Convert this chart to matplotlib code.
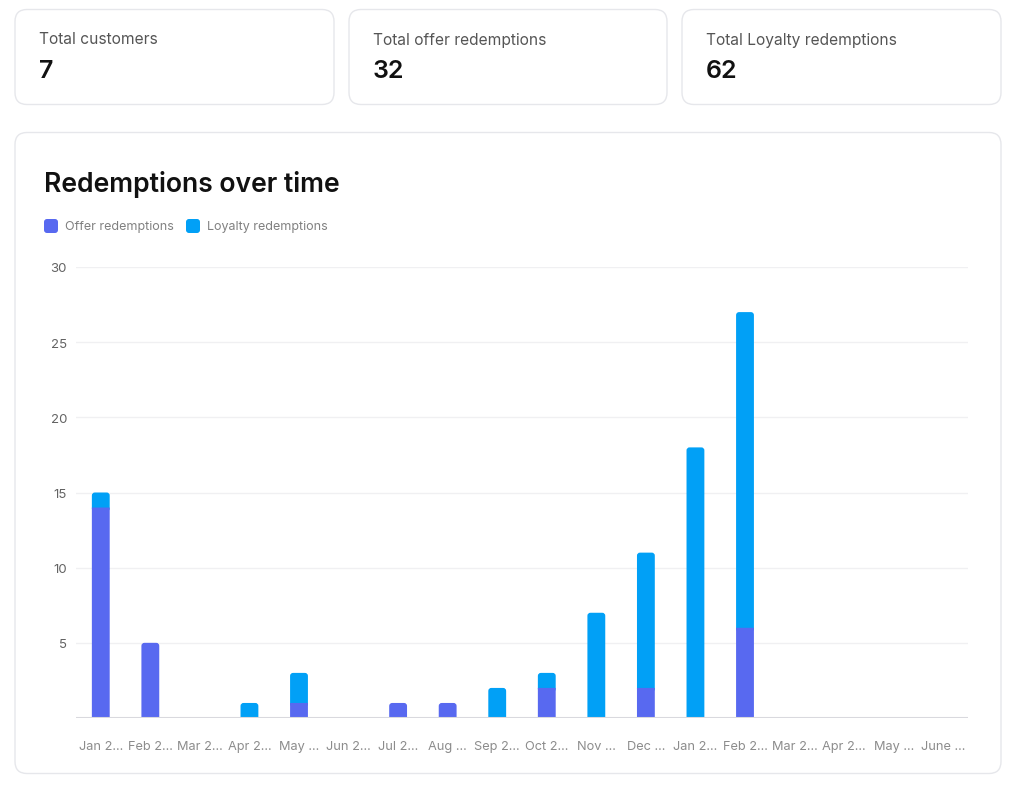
"""
Redemptions dashboard: KPI cards + stacked bar chart
"""

import matplotlib
matplotlib.use("Agg")
import matplotlib.pyplot as plt
from matplotlib.patches import FancyBboxPatch

plt.rcParams["font.family"] = ["Inter", "DejaVu Sans"]

# data
kpi_titles = ["Total customers", "Total offer redemptions", "Total Loyalty redemptions"]
kpi_values = ["7", "32", "62"]

months = ["Jan 2...", "Feb 2...", "Mar 2...", "Apr 2...", "May ...", "Jun 2...",
          "Jul 2...", "Aug ...", "Sep 2...", "Oct 2...", "Nov ...", "Dec ...",
          "Jan 2...", "Feb 2...", "Mar 2...", "Apr 2...", "May ...", "June ..."]
offer = [14, 5, 0, 0, 1, 0, 1, 1, 0, 2, 0, 2, 0, 6, 0, 0, 0, 0]
loyalty = [1, 0, 0, 1, 2, 0, 0, 0, 2, 1, 7, 9, 18, 21, 0, 0, 0, 0]
yticks = [5, 10, 15, 20, 25, 30]

OFFER_C = "#5869f0"
LOYAL_C = "#01a0f6"
BORDER = "#e6e7eb"

W, H = 1024, 803
fig = plt.figure(figsize=(W / 100, H / 100), dpi=100)
fig.patch.set_facecolor("white")

# background layer in pixel coords
bg = fig.add_axes([0, 0, 1, 1])
bg.set_xlim(0, W)
bg.set_ylim(H, 0)
bg.axis("off")


def card(x0, y0, x1, y1, r=12):
    bg.add_patch(FancyBboxPatch((x0, y0), x1 - x0, y1 - y0,
                                boxstyle=f"round,pad=0,rounding_size={r}",
                                fc="white", ec=BORDER, lw=1.0))


card_x = [(15, 334), (349, 667), (682, 1001)]
for (x0, x1), t, v in zip(card_x, kpi_titles, kpi_values):
    card(x0, 10.5, x1, 105.5)
    bg.text(x0 + 24, 40, t, fontsize=11.2, color="#555555", va="center", ha="left")
    bg.text(x0 + 24, 72, v, fontsize=18, color="#111111", va="center", ha="left",
            fontweight="semibold")

card(15, 133.5, 1001, 774.5)
bg.text(44, 184, "Redemptions over time", fontsize=19.1, color="#111111",
        va="center", ha="left", fontweight="semibold")

# legend
for lx, col, lab in [(44, OFFER_C, "Offer redemptions"), (186, LOYAL_C, "Loyalty redemptions")]:
    bg.add_patch(FancyBboxPatch((lx, 220), 14, 14, boxstyle="round,pad=0,rounding_size=3",
                                fc=col, ec="none"))
    bg.text(lx + 21, 227, lab, fontsize=9, color="#808080", va="center", ha="left")

# chart
ax = fig.add_axes([76 / W, 1 - 719 / H, 892 / W, 451 / H])
ax.set_xlim(-0.5, len(months) - 0.5)
ax.set_ylim(0, 30)
ax.set_facecolor("none")
x = range(len(months))
bw = 0.36

b1 = ax.bar(x, offer, width=bw, color=OFFER_C, zorder=3, snap=False)
b2 = ax.bar(x, loyalty, width=bw, bottom=offer, color=LOYAL_C, zorder=3, snap=False)

# top segment of each stack gets rounded top corners
px_x = 1 / 49.56
px_y = 30 / 451
r = 3 * px_x
aspect = px_y / px_x
ext = 4 * px_y  # push the rounded bottom under the segment below / the axis
for i in range(len(months)):
    top = b2[i] if loyalty[i] > 0 else b1[i]
    if top.get_height() <= 0:
        continue
    xx, yy, ww, hh = top.get_x(), top.get_y(), top.get_width(), top.get_height()
    top.set_visible(False)
    ax.add_patch(FancyBboxPatch((xx, yy - ext), ww, hh + ext,
                                boxstyle=f"round,pad=0,rounding_size={r}",
                                mutation_aspect=aspect, snap=False,
                                fc=top.get_facecolor(), ec="none", zorder=2.5))

ax.set_yticks(yticks)
ax.yaxis.grid(True, color="#f0f0f2", lw=1, zorder=0)
ax.axhline(0, color="#d9d9de", lw=1.5, zorder=4)
ax.set_xticks(list(x))
ax.set_xticklabels(months)
ax.tick_params(axis="x", length=0, pad=16, labelsize=9.2, labelcolor="#8c8c8c")
ax.tick_params(axis="y", length=0, pad=6.5, labelsize=9.5, labelcolor="#636363")
for s in ax.spines.values():
    s.set_visible(False)

fig.savefig("out.png", dpi=100, facecolor="white")
